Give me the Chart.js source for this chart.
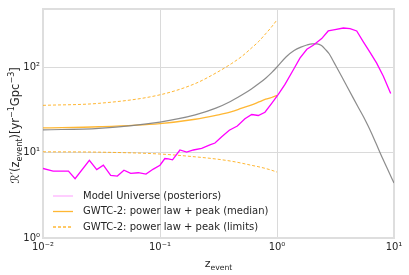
<!DOCTYPE html>
<html>
<head>
<meta charset="utf-8">
<script src="https://cdn.jsdelivr.net/npm/chart.js@4"></script>
<style>
  body { margin: 0; background: #fff; }
  canvas { display: block; }
</style>
</head>
<body>
<canvas id="RateChart" width="409" height="275"></canvas>
<script>
// model universe (posteriors)
var zModel = [0.0100, 0.0122, 0.0165, 0.0188, 0.0249, 0.0288, 0.0328, 0.0379, 0.0432, 0.0492,
  0.0562, 0.0653, 0.0759, 0.0877, 0.100, 0.110, 0.118, 0.128, 0.148, 0.169, 0.193, 0.227,
  0.267, 0.295, 0.337, 0.391, 0.458, 0.532, 0.608, 0.692, 0.789, 0.901, 1.026, 1.17, 1.38,
  1.57, 1.80, 2.04, 2.41, 2.74, 3.13, 3.69, 4.21, 4.80, 5.47, 6.24, 7.11, 8.11, 9.37];
var rModel = [6.5, 6.05, 6.05, 4.93, 8.1, 6.3, 7.1, 5.4, 5.3, 6.2,
  5.7, 5.8, 5.6, 6.4, 7.1, 8.5, 8.4, 8.2, 10.7, 10.1, 10.7, 11.2,
  12.3, 12.9, 15.3, 18.2, 20.4, 24.8, 27.8, 27.1, 29.6, 37.6, 48, 62.6, 93,
  127, 161, 180, 215, 264, 274, 286, 281, 264, 197, 148, 111, 78, 49];

// GWTC-2 power law + peak
var zGwtc = [0.01, 0.03, 0.1, 0.2, 0.3, 0.41, 0.5, 0.6, 0.7, 0.8, 0.9, 1.0];
var gwtcMedian = [19.4, 20.0, 21.8, 24.5, 27.2, 30.0, 33.0, 35.8, 39.0, 42.0, 44.0, 46.5];
var gwtcUpper = [35.6, 37.6, 47.3, 64, 85, 110, 133, 165, 200, 245, 295, 356];
var gwtcLower = [10.2, 10.1, 9.6, 8.9, 8.4, 7.9, 7.5, 7.1, 6.8, 6.5, 6.2, 5.9];

// grey curve (not in legend)
var zShape = [0.01, 0.03, 0.1, 0.2, 0.3, 0.4, 0.5, 0.6, 0.7, 0.8, 0.9, 1.0, 1.2, 1.4, 1.6,
  1.8, 2.0, 2.2, 2.4, 2.6, 2.8, 3.0, 3.2, 3.6, 4.0, 4.5, 5.0, 5.5, 6.0, 6.5, 7.0, 8.0, 9.0, 10];
var rShape = [18.4, 19.2, 22.7, 27.5, 33, 39.5, 47, 55, 64, 74, 86, 100, 132, 156, 171,
  181, 186, 186, 178, 160, 142, 120, 102, 76, 58, 43, 33, 26, 20.5, 16.2, 12.9, 8.5, 6.0, 4.4];

var xTicks = [0.01, 0.1, 1, 10];
var xTickLabels = ['10\u207B\u00B2', '10\u207B\u00B9', '10\u2070', '10\u00B9'];
var yTicks = [1, 10, 100];
var yTickLabels = ['10\u2070', '10\u00B9', '10\u00B2'];

var FONT = 'DejaVu Sans';
var TXT = '#262626';

function pts(xs, ys) {
  return xs.map(function (x, i) { return { x: x, y: ys[i] }; });
}

function richText(ctx, parts, x, y, size) {
  // parts: [text, scale, dy]
  var total = 0;
  parts.forEach(function (p) {
    ctx.font = (size * p[1]) + 'px "' + FONT + '"';
    total += ctx.measureText(p[0]).width;
  });
  var cx = x - total / 2;
  parts.forEach(function (p) {
    ctx.font = (size * p[1]) + 'px "' + FONT + '"';
    ctx.fillText(p[0], cx, y + p[2]);
    cx += ctx.measureText(p[0]).width;
  });
}

var decorPlugin = {
  id: 'decor',
  beforeDatasetsDraw: function (chart) {
    var ctx = chart.ctx, a = chart.chartArea;
    ctx.save();
    ctx.strokeStyle = '#dedede';
    ctx.lineWidth = 2;
    ctx.strokeRect(a.left, a.top, a.right - a.left, a.bottom - a.top);
    ctx.restore();
  },
  afterDraw: function (chart) {
    var ctx = chart.ctx, a = chart.chartArea;
    ctx.save();
    ctx.fillStyle = TXT;
    ctx.textBaseline = 'alphabetic';

    // x title
    richText(ctx, [['z', 1, 0], ['event', 0.7, 2.5]], (a.left + a.right) / 2, 267, 11);

    // y title
    ctx.save();
    ctx.translate(19, (a.top + a.bottom) / 2 + 2);
    ctx.rotate(-Math.PI / 2);
    richText(ctx, [
      ['\u211B\u2032(z', 1, 0], ['event', 0.7, 2.7], [')[yr', 1, 0], ['\u22121', 0.7, -4.8],
      ['Gpc', 1, 0], ['\u22123', 0.7, -4.8], [']', 1, 0]
    ], 0, 0, 11.5);
    ctx.restore();

    // legend
    var rows = [
      { label: 'Model Universe (posteriors)', color: 'rgba(255,0,255,0.3)', dash: [] },
      { label: 'GWTC-2: power law + peak (median)', color: 'rgba(255,165,0,0.8)', dash: [] },
      { label: 'GWTC-2: power law + peak (limits)', color: 'rgba(255,165,0,0.8)', dash: [3, 2] }
    ];
    ctx.font = '10px "' + FONT + '"';
    ctx.textBaseline = 'middle';
    rows.forEach(function (r, i) {
      var y = 196 + i * 15.5;
      ctx.beginPath();
      ctx.setLineDash(r.dash);
      ctx.strokeStyle = r.color;
      ctx.lineWidth = 1.3;
      ctx.moveTo(53, y);
      ctx.lineTo(73, y);
      ctx.stroke();
      ctx.setLineDash([]);
      ctx.fillStyle = TXT;
      ctx.fillText(r.label, 83, y);
    });
    ctx.restore();
  }
};

var ctx = document.getElementById('RateChart').getContext('2d');
var RateChart = new Chart(ctx, {
  type: 'line',
  data: {
    datasets: [
      {
        label: 'Model Universe (posteriors)',
        data: pts(zModel, rModel),
        borderColor: '#ff00ff',
        borderWidth: 1.3,
        tension: 0,
        order: 0
      },
      {
        label: 'GWTC-2: power law + peak (median)',
        data: pts(zGwtc, gwtcMedian),
        borderColor: 'rgba(255,165,0,0.8)',
        borderWidth: 1.3,
        cubicInterpolationMode: 'monotone',
        order: 2
      },
      {
        label: 'GWTC-2: power law + peak (limits)',
        data: pts(zGwtc, gwtcUpper),
        borderColor: 'rgba(255,165,0,0.8)',
        borderWidth: 1,
        borderDash: [3, 2],
        cubicInterpolationMode: 'monotone',
        order: 3
      },
      {
        label: 'limits_low',
        data: pts(zGwtc, gwtcLower),
        borderColor: 'rgba(255,165,0,0.8)',
        borderWidth: 1,
        borderDash: [3, 2],
        cubicInterpolationMode: 'monotone',
        order: 4
      },
      {
        label: 'shape',
        data: pts(zShape, rShape),
        borderColor: 'rgba(128,128,128,0.9)',
        borderWidth: 1.2,
        cubicInterpolationMode: 'monotone',
        order: 1
      }
    ]
  },
  options: {
    responsive: false,
    animation: false,
    devicePixelRatio: 1,
    layout: { padding: { top: 5, right: 15, left: 0, bottom: 0 } },
    elements: { point: { radius: 0 } },
    plugins: { legend: { display: false }, tooltip: { enabled: false } },
    scales: {
      x: {
        type: 'logarithmic',
        min: 0.01,
        max: 10,
        afterBuildTicks: function (s) { s.ticks = xTicks.map(function (v) { return { value: v }; }); },
        afterFit: function (s) { s.height = 37; },
        ticks: {
          autoSkip: false,
          maxRotation: 0,
          padding: 3,
          color: TXT,
          font: { family: FONT, size: 10 },
          callback: function (v) { return xTickLabels[xTicks.indexOf(v)]; }
        },
        grid: { color: '#dadada', lineWidth: 1, drawTicks: false },
        border: { display: false }
      },
      y: {
        type: 'logarithmic',
        min: 1,
        max: 477,
        afterBuildTicks: function (s) { s.ticks = yTicks.map(function (v) { return { value: v }; }); },
        afterFit: function (s) { s.width = 43; },
        ticks: {
          autoSkip: false,
          padding: 3,
          color: TXT,
          font: { family: FONT, size: 10 },
          callback: function (v) { return yTickLabels[yTicks.indexOf(v)]; }
        },
        grid: { color: '#dadada', lineWidth: 1, drawTicks: false },
        border: { display: false }
      }
    }
  },
  plugins: [decorPlugin]
});
</script>
</body>
</html>
